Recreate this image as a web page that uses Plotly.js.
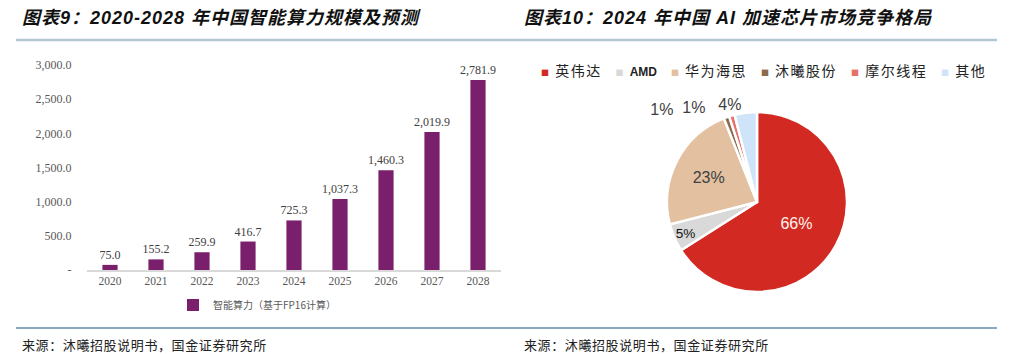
<!DOCTYPE html>
<html>
<head>
<meta charset="utf-8">
<script src="https://cdn.plot.ly/plotly-3.0.1.min.js"></script>
<style>
  html, body { margin: 0; padding: 0; background: #fff; }
  #chart { width: 1024px; height: 354px; }
</style>
</head>
<body>
<div id="chart"></div>
<script>
// ---- Data ----
const years = ['2020', '2021', '2022', '2023', '2024', '2025', '2026', '2027', '2028'];
const computePower = [75.0, 155.2, 259.9, 416.7, 725.3, 1037.3, 1460.3, 2019.9, 2781.9];
const barSeriesName = '智能算力（基于FP16计算）';
const yTickVals = [0, 500, 1000, 1500, 2000, 2500, 3000];
const yTickText = ['-', '500.0', '1,000.0', '1,500.0', '2,000.0', '2,500.0', '3,000.0'];

const chipVendors = ['英伟达', 'AMD', '华为海思', '沐曦股份', '摩尔线程', '其他'];
const chipShare = [66, 5, 23, 1, 1, 4];
const chipColors = ['#D22A22', '#D9D9D9', '#E2C0A0', '#8C6A4C', '#E8706A', '#CFE4F8'];
const chipTextColors = ['#FFF4EE', '#111111', '#404040', '#404040', '#404040', '#404040'];
// which labels sit inside the pie, and which sit outside (each outside label gets its own
// overlay layer so the labels spread sideways instead of stacking)
const chipInside = [true, true, true, false, false, false];
const outsidePad = [0, 0, 0, 11, 5, 0];   // trailing spaces to spread outside labels

const leftTitle = '图表9：2020-2028 年中国智能算力规模及预测';
const rightTitle = '图表10：2024 年中国 AI 加速芯片市场竞争格局';
const sourceText = '来源：沐曦招股说明书，国金证券研究所';

// ---- Helpers ----
const W = 1024, H = 354;
const px = x => x / W;
const py = y => 1 - y / H;

const titleFont = { family: 'Liberation Sans, Arial, "Noto Sans CJK SC", sans-serif', size: 18, color: '#111' };
const serif = 'Liberation Serif, "Times New Roman", "Noto Sans CJK SC", serif';
const cjk = '"Noto Sans CJK SC", "Liberation Sans", sans-serif';
const pieFont = 'Liberation Sans, Arial, sans-serif';
const NB = '\u00a0';

const legendText = chipVendors.map((v, i) => {
  const name = v === 'AMD'
    ? `<span style="font-family:'Liberation Sans Narrow','Liberation Sans',sans-serif;font-weight:bold;font-size:12px;letter-spacing:0px">${v}</span>`
    : v;
  return `<span style="color:${chipColors[i]};font-size:8px">■</span>&nbsp;${name}`;
}).join('&nbsp;&nbsp;&nbsp;');

const pieDomain = { x: [px(667), px(847)], y: [py(292), py(112)] };

const traces = [
  {
    type: 'bar',
    x: years,
    y: computePower,
    name: barSeriesName,
    marker: { color: '#7A1F6B' },
    texttemplate: '%{y:,.1f}',
    textposition: 'outside',
    constraintext: 'none',
    cliponaxis: false,
    textfont: { family: serif, size: 12, color: '#404040' },
    xaxis: 'x', yaxis: 'y',
    showlegend: true,
    hoverinfo: 'x+y'
  },
  {
    type: 'pie',
    labels: chipVendors,
    values: chipShare,
    sort: false,
    direction: 'clockwise',
    rotation: 0,
    marker: { colors: chipColors, line: { color: '#ffffff', width: 2.5 } },
    texttemplate: '%{percent:.0%}',
    textposition: chipInside.map(v => v ? 'inside' : 'none'),
    insidetextorientation: 'horizontal',
    textfont: { family: pieFont, size: 16, color: chipTextColors },
    domain: pieDomain,
    showlegend: false,
    automargin: false
  }
];

// one transparent overlay layer per outside label
chipInside.forEach((inside, k) => {
  if (inside) return;
  traces.push({
    type: 'pie',
    labels: chipVendors,
    values: chipShare,
    sort: false,
    direction: 'clockwise',
    rotation: 0,
    marker: { colors: chipVendors.map(() => 'rgba(0,0,0,0)'), line: { width: 0 } },
    texttemplate: chipVendors.map((_, i) => '%{percent:.0%}' + NB.repeat(outsidePad[i])),
    textposition: chipVendors.map((_, i) => i === k ? 'outside' : 'none'),
    outsidetextfont: { family: pieFont, size: 16, color: '#404040' },
    domain: pieDomain,
    showlegend: false,
    automargin: false,
    hoverinfo: 'skip'
  });
});

const layout = {
  width: W, height: H,
  margin: { l: 0, r: 0, t: 0, b: 0, pad: 0 },
  paper_bgcolor: '#ffffff',
  plot_bgcolor: '#ffffff',
  bargap: 0.67,
  xaxis: {
    domain: [px(87), px(501)],
    type: 'category',
    showline: true, linecolor: '#D9D9D9', linewidth: 1.5,
    showgrid: false, zeroline: false,
    ticks: '', ticklen: 0,
    tickfont: { family: serif, size: 11.5, color: '#595959' },
    fixedrange: true
  },
  yaxis: {
    domain: [py(270), py(65)],
    range: [0, 3000],
    tickvals: yTickVals,
    ticktext: yTickText,
    showline: false, showgrid: false, zeroline: false,
    ticks: 'outside', ticklen: 12, tickcolor: 'rgba(0,0,0,0)',
    tickfont: { family: serif, size: 12, color: '#595959' },
    fixedrange: true
  },
  showlegend: true,
  legend: {
    orientation: 'h',
    x: px(173), xanchor: 'left',
    y: py(305), yanchor: 'middle',
    font: { family: cjk, size: 10, color: '#595959' },
    bgcolor: 'rgba(0,0,0,0)',
    itemwidth: 30
  },
  shapes: [
    { type: 'line', xref: 'paper', yref: 'paper', x0: px(16), x1: px(997), y0: py(40), y1: py(40), line: { color: '#B4C7D5', width: 2.5 } },
    { type: 'line', xref: 'paper', yref: 'paper', x0: px(16), x1: px(997), y0: py(328), y1: py(328), line: { color: '#5E8FA6', width: 1.5 } }
  ],
  annotations: [
    { xref: 'paper', yref: 'paper', x: px(20), y: py(18), xanchor: 'left', yanchor: 'middle', showarrow: false,
      text: `<b><i><span style="letter-spacing:1px">${leftTitle}</span></i></b>`, font: titleFont },
    { xref: 'paper', yref: 'paper', x: px(522), y: py(18), xanchor: 'left', yanchor: 'middle', showarrow: false,
      text: `<b><i><span style="letter-spacing:1px">${rightTitle}</span></i></b>`, font: titleFont },
    { xref: 'paper', yref: 'paper', x: px(20), y: py(344), xanchor: 'left', yanchor: 'middle', showarrow: false,
      text: `<span style="letter-spacing:0.6px">${sourceText}</span>`, font: { family: cjk, size: 13, color: '#222' } },
    { xref: 'paper', yref: 'paper', x: px(522), y: py(344), xanchor: 'left', yanchor: 'middle', showarrow: false,
      text: `<span style="letter-spacing:0.6px">${sourceText}</span>`, font: { family: cjk, size: 13, color: '#222' } },
    { xref: 'paper', yref: 'paper', x: px(539), y: py(70), xanchor: 'left', yanchor: 'middle', showarrow: false,
      text: `<span style="letter-spacing:1.5px">${legendText}</span>`, font: { family: cjk, size: 14, color: '#222' } }
  ]
};

Plotly.newPlot('chart', traces, layout, { displayModeBar: false, staticPlot: true });
</script>
</body>
</html>
